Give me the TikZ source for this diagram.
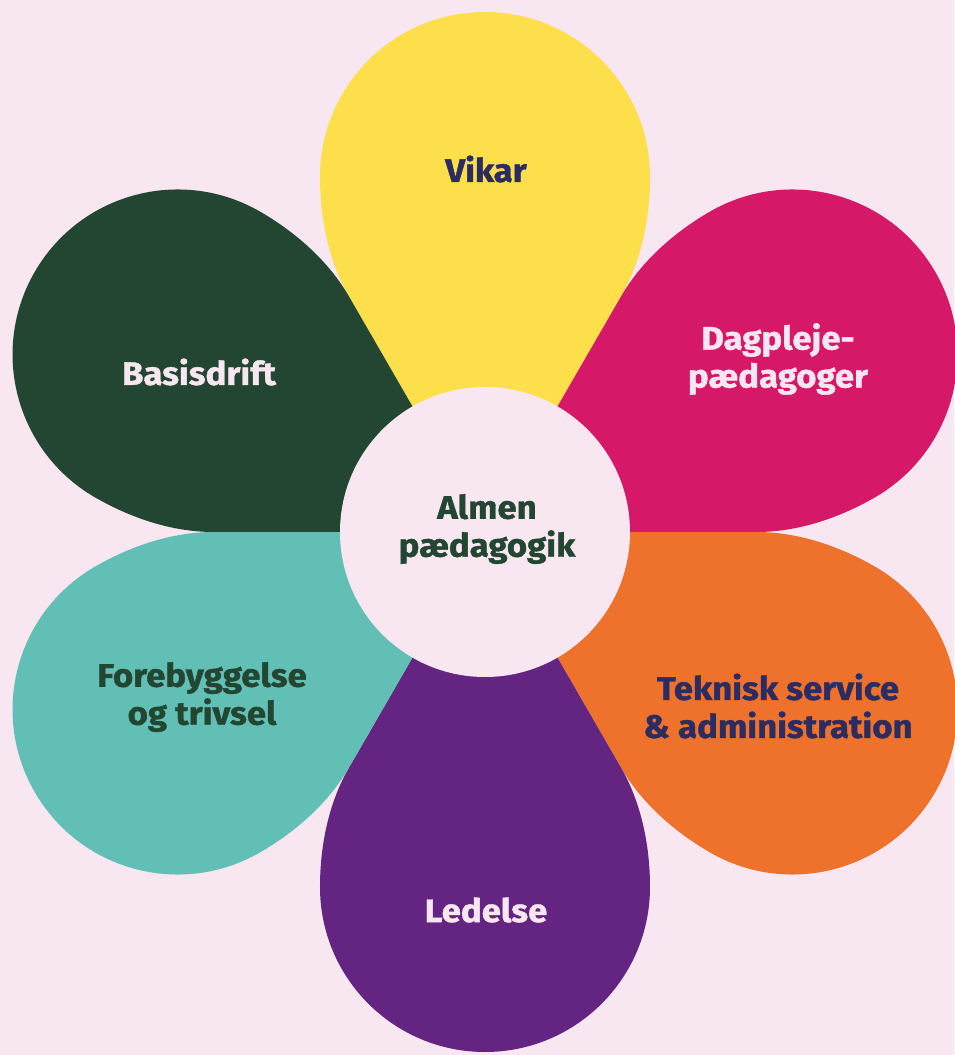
\documentclass[tikz,border=0pt]{standalone}
\usepackage{fontspec}
\setmainfont{Fira Sans}[BoldFeatures={FakeStretch=1.07, FakeBold=1.2}]
\usepackage{xcolor}
\usepackage{tikz}
\usetikzlibrary{positioning}

\definecolor{bgpink}{HTML}{F8E6F1}
\definecolor{vikarcol}{HTML}{FCDF4A}
\definecolor{dagcol}{HTML}{D51968}
\definecolor{tekcol}{HTML}{EE712C}
\definecolor{ledcol}{HTML}{642482}
\definecolor{forcol}{HTML}{62BFB5}
\definecolor{basiscol}{HTML}{224631}
\definecolor{navy}{HTML}{2A2C62}

\begin{document}
\begin{tikzpicture}[
    x=0.02cm, y=0.02cm,
    label/.style = {font=\bfseries\fontsize{18.5}{21.6}\selectfont, align=center, inner sep=0pt},
    petal/.style = {fill=#1, draw=none}
  ]
  \fill[bgpink] (-485,-523) rectangle (469,532);
  \useasboundingbox (-485,-523) rectangle (469,532);

  % six petals round the middle
  \foreach \ang/\col in {90/vikarcol, 30/dagcol, -30/tekcol, -90/ledcol, -150/forcol, 150/basiscol} {
    \begin{scope}[rotate=\ang]
      \path[petal=\col] (0,0) -- (235.6,-136)
        .. controls (271.1,-156.5) and (314,-165) .. (355,-165)
        arc[start angle=-90, end angle=90, radius=165]
        .. controls (314,165) and (271.1,156.5) .. (235.6,136)
        -- cycle;
    \end{scope}
  }

  \fill[bgpink] (0,0) circle (145);

  \node[label, text=basiscol] (almen) at (2,3) {Almen\\pædagogik};
  \node[label, text=navy] (vikar) at (1,363) {Vikar};
  \node[label, text=bgpink] (dagpleje) at (293,173) {Dagpleje-\\pædagoger};
  \node[label, text=navy] (teknisk) at (293,-174) {Teknisk service\\\& administration};
  \node[label, text=bgpink] (ledelse) at (1,-378) {Ledelse};
  \node[label, text=basiscol] (forebyg) at (-283,-165) {Forebyggelse\\og trivsel};
  \node[label, text=bgpink] (basis) at (-286,160) {Basisdrift};
\end{tikzpicture}
\end{document}
